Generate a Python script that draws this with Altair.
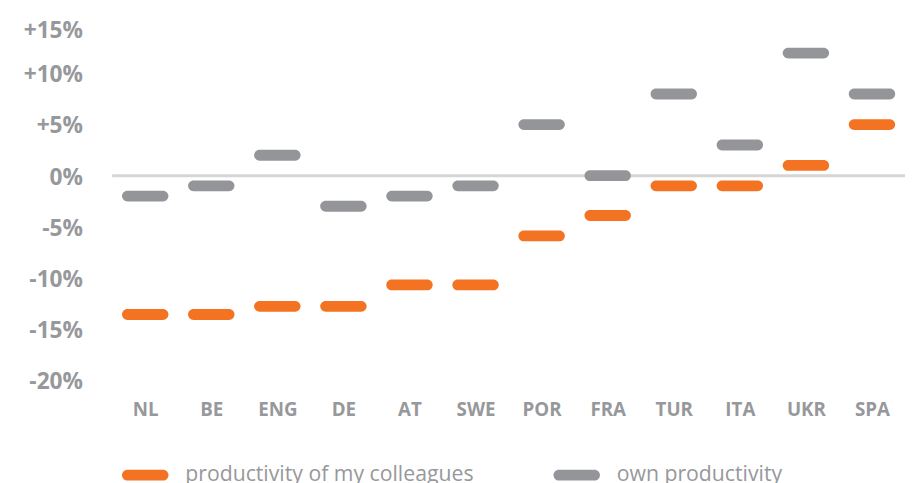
import altair as alt
import pandas as pd

countries = ["NL", "BE", "ENG", "DE", "AT", "SWE", "POR", "FRA", "TUR", "ITA", "UKR", "SPA"]
colleagues = [-13.6, -13.6, -12.8, -12.8, -10.7, -10.7, -5.9, -3.9, -1.0, -1.0, 1.0, 5.0]
own = [-2.0, -1.0, 2.0, -3.0, -2.0, -1.0, 5.0, 0.0, 8.0, 3.0, 12.0, 8.0]
series = ["productivity of my colleagues", "own productivity"]
colors = ["#F47322", "#939598"]
y_ticks = [-20, -15, -10, -5, 0, 5, 10, 15]

rows = []
for c, v in zip(countries, colleagues):
    rows.append({"country": c, "value": v, "series": series[0]})
for c, v in zip(countries, own):
    rows.append({"country": c, "value": v, "series": series[1]})
df = pd.DataFrame(rows)

PILL = ("M-0.766,-0.234 L0.766,-0.234 A0.234,0.234 0 0 1 0.766,0.234 "
        "L-0.766,0.234 A0.234,0.234 0 0 1 -0.766,-0.234 Z")
LABEL_GRAY = "#97989b"
FONT = "Open Sans"

y_axis = alt.Axis(values=y_ticks, grid=False, domain=False, ticks=False,
                  labelExpr="datum.value > 0 ? '+' + datum.value + '%' : datum.value + '%'",
                  labelFont=FONT, labelFontSize=23, labelFontWeight="bold",
                  labelColor=LABEL_GRAY, labelPadding=30, labelBaseline="middle",
                  labelOffset={"condition": {"test": "datum.value == 15", "value": 8.5},
                               "value": 1.5})
y_scale = alt.Scale(domain=[-20, 15], nice=False, zero=False)

zero = alt.Chart(pd.DataFrame({"value": [0]})).mark_rule(
    color="#d6d6d6", strokeWidth=3
).encode(y=alt.Y("value:Q", title=None, scale=y_scale, axis=y_axis))

points = alt.Chart(df).mark_point(
    shape=PILL, filled=True, size=2209, opacity=1, strokeWidth=0
).encode(
    x=alt.X("country:N", sort=countries, title=None,
            scale=alt.Scale(paddingInner=0, paddingOuter=0),
            axis=alt.Axis(domain=False, ticks=False, labelAngle=0,
                          labelFont=FONT, labelFontSize=19, labelFontWeight="bold",
                          labelColor=LABEL_GRAY, labelPadding=21)),
    y=alt.Y("value:Q", title=None, scale=y_scale, axis=y_axis),
    color=alt.Color("series:N", scale=alt.Scale(domain=series, range=colors),
                    sort=series,
                    legend=alt.Legend(title=None, orient="none", legendX=10, legendY=435,
                                      direction="horizontal", symbolType=PILL,
                                      symbolSize=2209, symbolStrokeWidth=0, symbolOpacity=1,
                                      labelFont=FONT, labelFontSize=21.5, labelColor=LABEL_GRAY,
                                      labelLimit=500, labelOffset=17, columnPadding=79)),
)

chart = alt.layer(zero, points).properties(
    width=803, height=362,
    background="white",
    autosize=alt.AutoSizeParams(type="none"),
    padding={"left": 105.5, "top": 11.5, "right": 0, "bottom": 120},
).configure_view(stroke="transparent", strokeWidth=0)

chart.save("out.html", embed_options={"renderer": "svg", "actions": False})
